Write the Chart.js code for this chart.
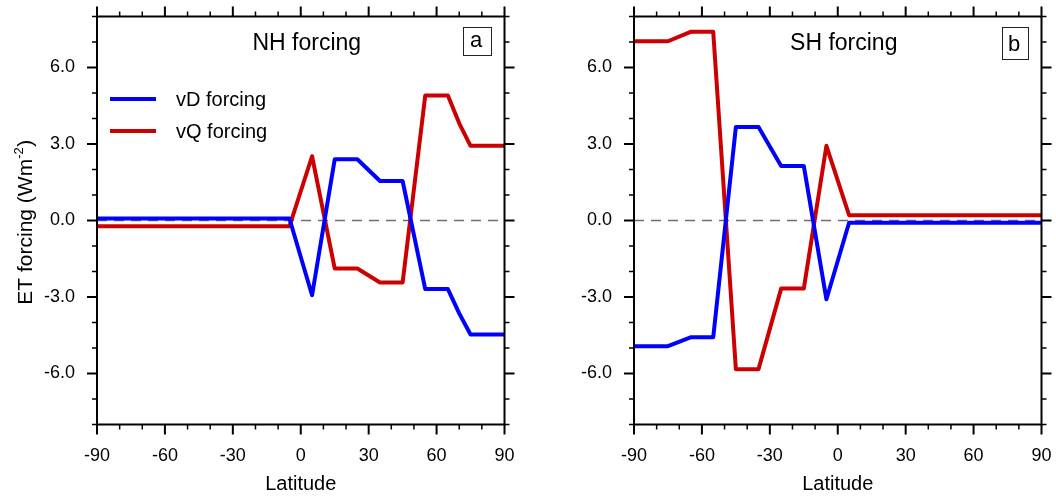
<!DOCTYPE html>
<html>
<head>
<meta charset="utf-8">
<script src="https://cdn.jsdelivr.net/npm/chart.js@4/dist/chart.umd.min.js"></script>
<style>
  body { margin: 0; background: #fff; }
  #wrap { position: relative; width: 1056px; height: 498px; }
  canvas { position: absolute; top: 0; }
  #nh { left: 0; }
  #sh { left: 530px; }
</style>
</head>
<body>
<div id="wrap">
  <canvas id="nh" width="530" height="498"></canvas>
  <canvas id="sh" width="526" height="498"></canvas>
</div>
<script>
// NH forcing run: latitude of each vertex and the two ET forcing terms (W m-2)
var nhLat = [-90, -5, 5, 15, 25, 35, 45, 55, 65, 70, 75, 90];
var nhVD  = [0.08, 0.08, -2.93, 2.4, 2.4, 1.55, 1.55, -2.69, -2.69, -3.64, -4.47, -4.47];
var nhVQ  = [-0.23, -0.23, 2.52, -1.88, -1.88, -2.43, -2.43, 4.9, 4.9, 3.81, 2.93, 2.93];

// SH forcing run
var shLat = [-90, -75, -65, -55, -45, -35, -25, -15, -5, 5, 90];
var shVD  = [-4.93, -4.93, -4.58, -4.58, 3.67, 3.67, 2.14, 2.14, -3.09, -0.09, -0.09];
var shVQ  = [7.03, 7.03, 7.4, 7.4, -5.83, -5.83, -2.67, -2.67, 2.93, 0.21, 0.21];

var latTicks = [-90, -60, -30, 0, 30, 60, 90];
var forcingTicks = [-6, -3, 0, 3, 6];
var seriesNames = ['vD forcing', 'vQ forcing'];
var seriesColors = ['#0000ff', '#cc0000'];

var FONT = '"Liberation Sans", Arial, Helvetica, sans-serif';

function points(lat, vals) {
    return lat.map(function (x, i) { return { x: x, y: vals[i] }; });
}

function seg(ctx, x1, y1, x2, y2) {
    ctx.beginPath();
    ctx.moveTo(x1, y1);
    ctx.lineTo(x2, y2);
    ctx.stroke();
}

// dashed zero line under the curves, then the frame with outward ticks on every side
var framePlugin = {
    id: 'frame',
    beforeDatasetsDraw(chart) {
        var ctx = chart.ctx, a = chart.chartArea;
        var y0 = chart.scales.y.getPixelForValue(0);
        ctx.save();
        ctx.strokeStyle = '#6e6e6e';
        ctx.lineWidth = 1.5;
        ctx.setLineDash([10, 7]);
        seg(ctx, a.left, y0, a.right, y0);
        ctx.restore();
    },
    afterDatasetsDraw(chart) {
        var ctx = chart.ctx, a = chart.chartArea;
        var xs = chart.scales.x, ys = chart.scales.y;
        ctx.save();
        ctx.strokeStyle = '#000';
        for (var v = xs.min; v <= xs.max; v += 10) {
            var major = v % 30 === 0;
            var px = xs.getPixelForValue(v), len = major ? 10 : 5;
            ctx.lineWidth = major ? 2 : 1.5;
            seg(ctx, px, a.bottom, px, a.bottom + len);
            seg(ctx, px, a.top, px, a.top - len);
        }
        for (var w = ys.min; w <= ys.max; w += 1) {
            var majorY = w % 3 === 0;
            var py = ys.getPixelForValue(w), lenY = majorY ? 10 : 5;
            ctx.lineWidth = majorY ? 2 : 1.5;
            seg(ctx, a.left, py, a.left - lenY, py);
            seg(ctx, a.right, py, a.right + lenY, py);
        }
        ctx.lineWidth = 2;
        ctx.strokeRect(a.left, a.top, a.right - a.left, a.bottom - a.top);
        ctx.restore();
    }
};

// line key drawn inside the plot
var keyPlugin = {
    id: 'lineKey',
    afterDatasetsDraw(chart, args, opts) {
        if (!opts.show) return;
        var ctx = chart.ctx, a = chart.chartArea;
        ctx.save();
        chart.data.datasets.forEach(function (ds, i) {
            var x = a.left + opts.dx, y = a.top + opts.dy + i * opts.step;
            ctx.strokeStyle = ds.borderColor;
            ctx.lineWidth = 4;
            seg(ctx, x, y, x + 46, y);
            ctx.fillStyle = '#000';
            ctx.font = '20px ' + FONT;
            ctx.textBaseline = 'middle';
            ctx.fillText(ds.label, x + 66, y + 1);
        });
        ctx.restore();
    }
};

// panel title and boxed panel letter
var panelPlugin = {
    id: 'panelText',
    afterDraw(chart, args, opts) {
        var ctx = chart.ctx, a = chart.chartArea;
        ctx.save();
        ctx.fillStyle = '#000';
        ctx.font = '23px ' + FONT;
        ctx.textAlign = 'center';
        ctx.textBaseline = 'middle';
        ctx.fillText(opts.title, (a.left + a.right) / 2 + 6, a.top + 27);

        ctx.font = '22px ' + FONT;
        ctx.textAlign = 'left';
        ctx.textBaseline = 'alphabetic';
        var m = ctx.measureText(opts.letter);
        var gw = m.actualBoundingBoxLeft + m.actualBoundingBoxRight;
        var gh = m.actualBoundingBoxAscent + m.actualBoundingBoxDescent;
        var padX = 7.5, padY = 8;
        var right = a.right - 14, top = a.top + 10.5;
        var left = right - gw - 2 * padX;
        ctx.fillText(opts.letter, left + padX + m.actualBoundingBoxLeft, top + padY + m.actualBoundingBoxAscent);
        ctx.strokeStyle = '#222';
        ctx.lineWidth = 1;
        ctx.strokeRect(Math.round(left) + 0.5, Math.round(top) + 0.5, Math.round(gw + 2 * padX), Math.round(gh + 2 * padY));
        ctx.restore();
    }
};

// rotated y title with a raised exponent
var yTitlePlugin = {
    id: 'yTitle',
    afterDraw(chart, args, opts) {
        if (!opts.text) return;
        var ctx = chart.ctx, a = chart.chartArea;
        var main = '21px ' + FONT, small = '13px ' + FONT;
        ctx.save();
        ctx.translate(opts.x, (a.top + a.bottom) / 2 + 2);
        ctx.rotate(-Math.PI / 2);
        ctx.fillStyle = '#000';
        ctx.textBaseline = 'alphabetic';
        ctx.font = main;
        var w1 = ctx.measureText(opts.text).width, w3 = ctx.measureText(')').width;
        ctx.font = small;
        var w2 = ctx.measureText(opts.sup).width;
        var x = -(w1 + w2 + w3) / 2;
        ctx.font = main;
        ctx.fillText(opts.text, x, 0);
        ctx.font = small;
        ctx.fillText(opts.sup, x + w1, -9);
        ctx.font = main;
        ctx.fillText(')', x + w1 + w2 + 0.5, 0);
        ctx.restore();
    }
};

function makeChart(id, lat, vd, vq, panel) {
    return new Chart(document.getElementById(id), {
        type: 'line',
        data: {
            datasets: [
                { label: seriesNames[0], data: points(lat, vd), borderColor: seriesColors[0] },
                { label: seriesNames[1], data: points(lat, vq), borderColor: seriesColors[1] }
            ]
        },
        options: {
            responsive: false,
            animation: false,
            events: [],
            elements: {
                line: { borderWidth: 4, tension: 0, fill: false, borderJoinStyle: 'round' },
                point: { radius: 0 }
            },
            layout: { padding: { left: 0, right: panel.padRight, top: 16.5, bottom: 0 } },
            scales: {
                x: {
                    type: 'linear',
                    min: -90,
                    max: 90,
                    grid: { display: false, drawTicks: false },
                    border: { display: false },
                    afterBuildTicks: function (s) {
                        s.ticks = latTicks.map(function (v) { return { value: v }; });
                    },
                    afterFit: function (s) {
                        s.height = 73.5;
                        s.paddingLeft = s.paddingRight = 0;
                    },
                    ticks: {
                        padding: 21,
                        color: '#000',
                        maxRotation: 0,
                        autoSkip: false,
                        font: { family: FONT, size: 18 },
                        callback: function (v) { return String(v); }
                    },
                    title: {
                        display: true,
                        text: 'Latitude',
                        color: '#000',
                        font: { family: FONT, size: 20 },
                        padding: { top: 0, bottom: 2 }
                    }
                },
                y: {
                    type: 'linear',
                    min: -8,
                    max: 8,
                    grid: { display: false, drawTicks: false },
                    border: { display: false },
                    afterBuildTicks: function (s) {
                        s.ticks = forcingTicks.map(function (v) { return { value: v }; });
                    },
                    afterFit: function (s) {
                        s.width = panel.yWidth;
                        s.paddingTop = s.paddingBottom = 0;
                    },
                    ticks: {
                        padding: 22,
                        color: '#000',
                        font: { family: FONT, size: 18 },
                        callback: function (v) { return v.toFixed(1); }
                    }
                }
            },
            plugins: {
                legend: { display: false },
                tooltip: { enabled: false },
                lineKey: panel.key,
                panelText: { title: panel.title, letter: panel.letter },
                yTitle: panel.yTitle
            }
        },
        plugins: [framePlugin, keyPlugin, panelPlugin, yTitlePlugin]
    });
}

makeChart('nh', nhLat, nhVD, nhVQ, {
    title: 'NH forcing',
    letter: 'a',
    yWidth: 97,
    padRight: 25.5,
    key: { show: true, dx: 13, dy: 82.5, step: 32 },
    yTitle: { text: 'ET forcing (Wm', sup: '-2', x: 31.5 }
});

makeChart('sh', shLat, shVD, shVQ, {
    title: 'SH forcing',
    letter: 'b',
    yWidth: 104,
    padRight: 14.5,
    key: { show: false },
    yTitle: { text: '' }
});
</script>
</body>
</html>
